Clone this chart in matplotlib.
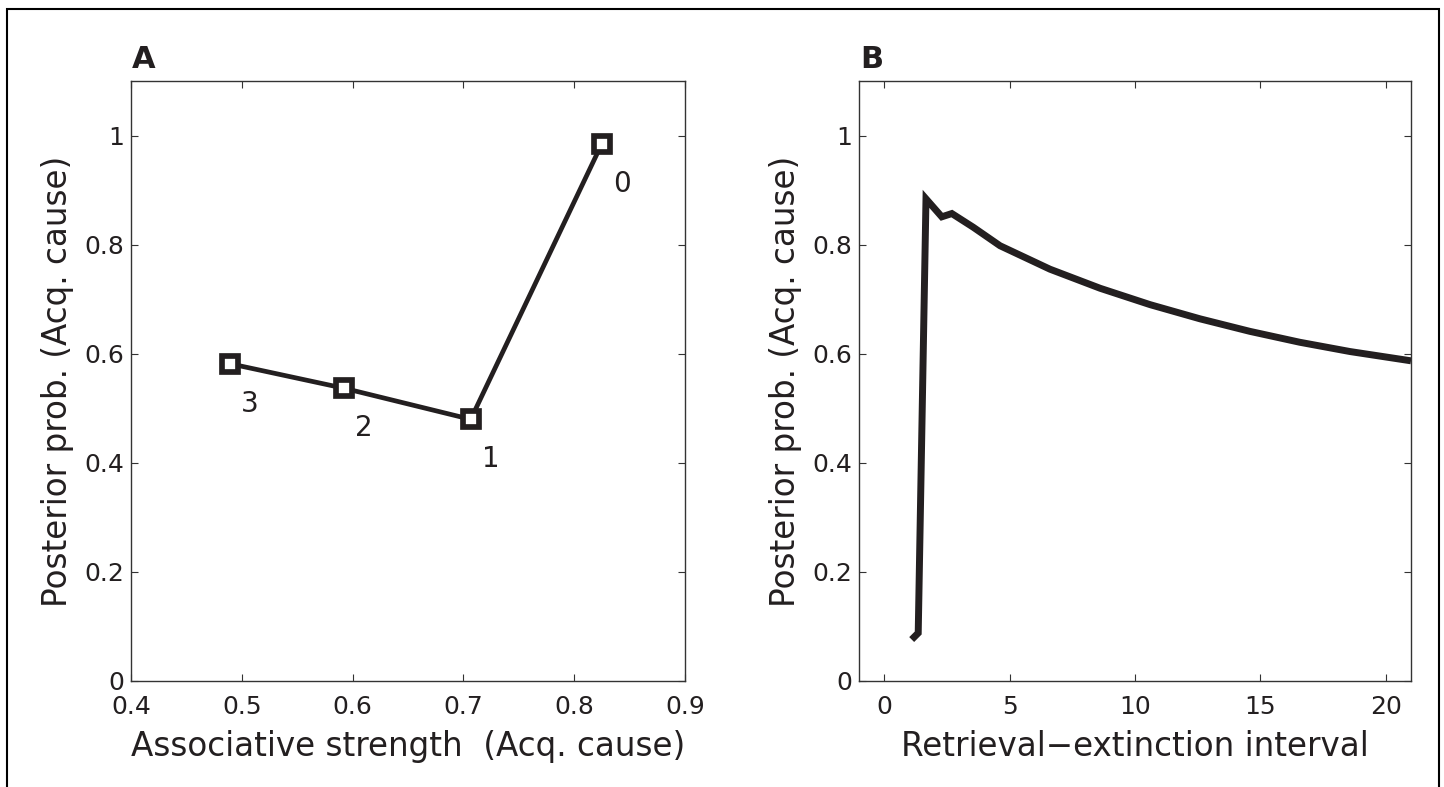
import matplotlib
matplotlib.use("Agg")
import matplotlib.pyplot as plt
from matplotlib.patches import Rectangle

plt.rcParams['font.family'] = ['DejaVu Sans']

# Panel A data
assoc_strength = [0.4893, 0.5925, 0.7066, 0.8248]
posterior_a = [0.5817, 0.5366, 0.4797, 0.9844]
point_labels = ['3', '2', '1', '0']

# Panel B data
interval = [1.1, 1.36, 1.67, 2.3, 2.7, 3.55, 4.62, 6.61, 8.61, 10.6, 12.59,
            14.58, 16.57, 18.57, 21.0]
posterior_b = [0.076, 0.088, 0.884, 0.851, 0.857, 0.832, 0.798, 0.755, 0.720,
               0.690, 0.664, 0.641, 0.621, 0.604, 0.587]

y_ticks = [0, 0.2, 0.4, 0.6, 0.8, 1.0]
y_ticklabels = ['0', '0.2', '0.4', '0.6', '0.8', '1']
xa_ticks = [0.4, 0.5, 0.6, 0.7, 0.8, 0.9]
xa_ticklabels = ['0.4', '0.5', '0.6', '0.7', '0.8', '0.9']
xb_ticks = [0, 5, 10, 15, 20]
xb_ticklabels = ['0', '5', '10', '15', '20']

ink = '#231f20'
spine_c = '#333333'

fig = plt.figure(figsize=(14.44, 7.87), dpi=100)
W, H = 1444, 787

def px_axes(l, t, r, b):
    return fig.add_axes([l / W, 1 - b / H, (r - l) / W, (b - t) / H])

axA = px_axes(131, 81, 685, 681)
axB = px_axes(859, 81, 1411, 681)

for ax in (axA, axB):
    for s in ax.spines.values():
        s.set_color(spine_c)
        s.set_linewidth(1.0)
    ax.tick_params(direction='in', length=5, width=0.8, color=spine_c,
                   top=True, right=True, labelsize=18, labelcolor=ink)
    ax.tick_params(axis='x', pad=10)
    ax.tick_params(axis='y', pad=5)
    ax.set_ylim(0, 1.1)
    ax.set_yticks(y_ticks)
    ax.set_yticklabels(y_ticklabels)
    ax.set_ylabel('Posterior prob. (Acq. cause)', fontsize=23.5, color=ink,
                  labelpad=7)

# Panel A
axA.plot(assoc_strength, posterior_a, color=ink, lw=3.4, marker='s', ms=11.7,
         mew=4.1, mfc='white', mec=ink, solid_joinstyle='miter')
for x, y, lab in zip(assoc_strength, posterior_a, point_labels):
    axA.annotate(lab, (x, y), xytext=(20, -40), textcoords='offset pixels',
                 ha='center', va='center', fontsize=20, color=ink)
axA.set_xlim(0.4, 0.9)
axA.set_xticks(xa_ticks)
axA.set_xticklabels(xa_ticklabels)
axA.set_xlabel('Associative strength  (Acq. cause)', fontsize=23.5, color=ink,
               labelpad=8)
axA.text(0.002, 1.012, 'A', transform=axA.transAxes, fontsize=22,
         fontweight='bold', color=ink, ha='left', va='bottom')

# Panel B
axB.plot(interval, posterior_b, color=ink, lw=5, solid_joinstyle='miter',
         solid_capstyle='butt')
axB.set_xlim(-1, 21)
axB.set_xticks(xb_ticks)
axB.set_xticklabels(xb_ticklabels)
axB.set_xlabel('Retrieval\u2212extinction interval', fontsize=23.5, color=ink,
               labelpad=8)
axB.text(0.002, 1.012, 'B', transform=axB.transAxes, fontsize=22,
         fontweight='bold', color=ink, ha='left', va='bottom')

# outer frame
fig.add_artist(Rectangle((7 / W, -0.2), (1439 - 7) / W, 1 - 9 / H + 0.2,
                         transform=fig.transFigure, fill=False,
                         edgecolor='black', lw=1.5))

fig.savefig('out.png', dpi=100)
